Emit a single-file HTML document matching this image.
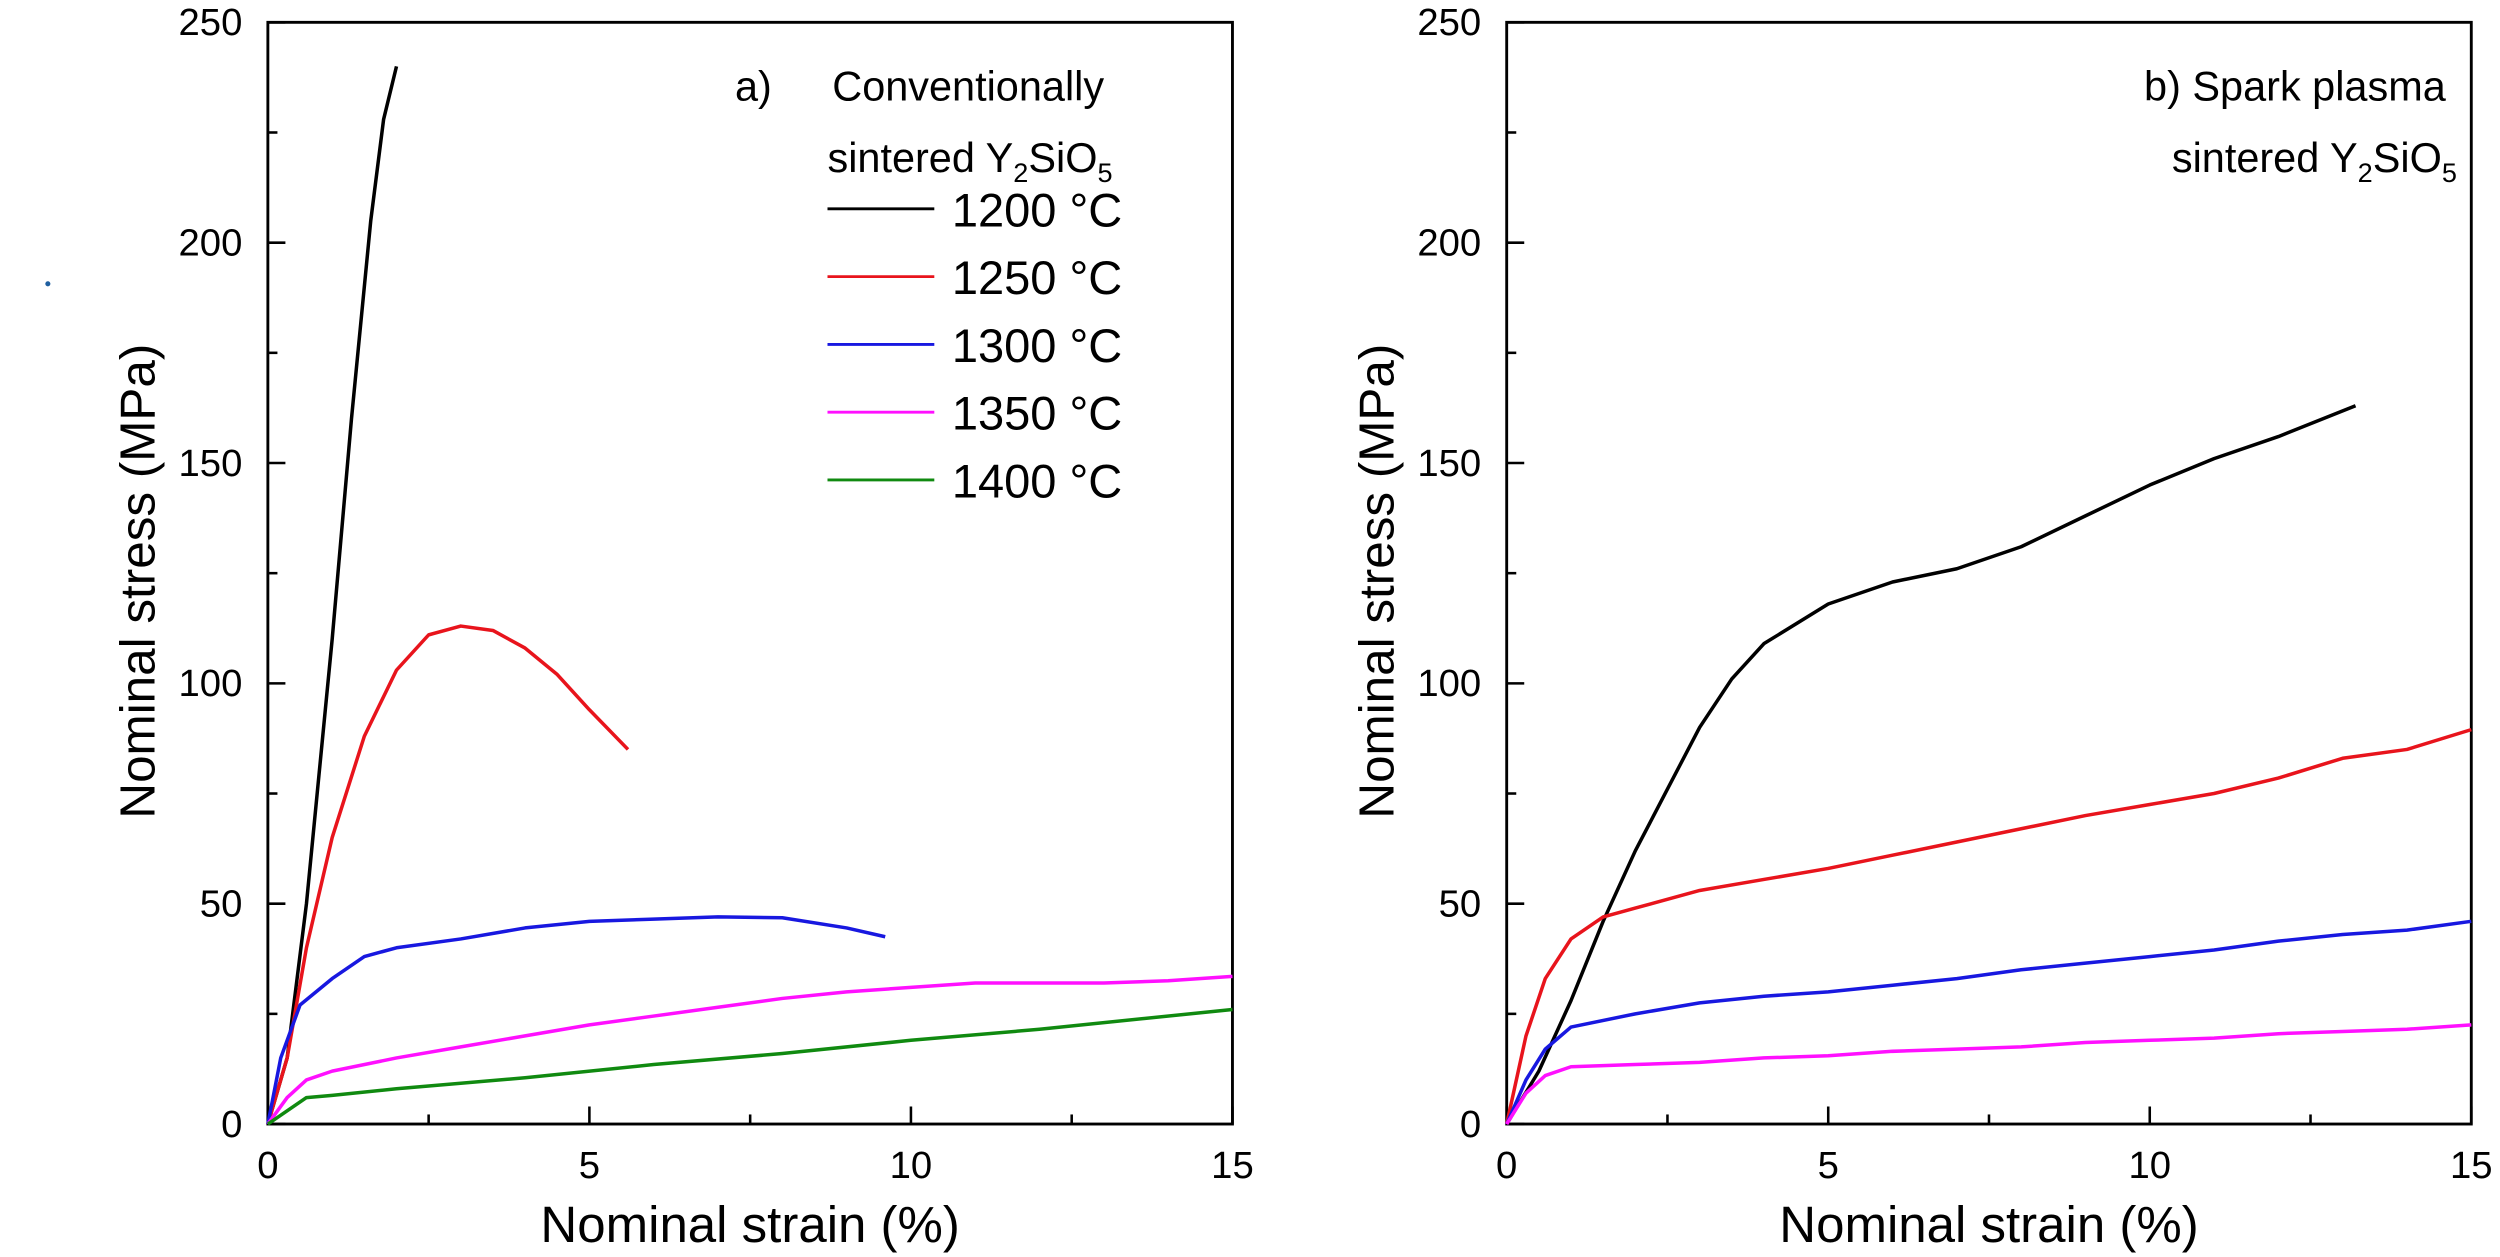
<!DOCTYPE html>
<html><head><meta charset="utf-8"><style>
html,body{margin:0;padding:0;background:#fff;}
svg{display:block;font-family:"Liberation Sans",Arial,sans-serif;}
</style></head><body>
<svg id="chart" width="2500" height="1257" viewBox="0 0 1568 788.4" xmlns="http://www.w3.org/2000/svg">
<circle cx="30" cy="178" r="1.6" fill="#1f5fa0"/>
</svg>
<script>
// ---- data: panel a (conventionally sintered) ----
const aStrain1200 = [0,0.3,0.6,1.0,1.3,1.6,1.8,2.0];
const aStress1200 = [0,15,50,110,160,205,228,240];
const aStrain1250 = [0,0.3,0.6,1.0,1.5,2.0,2.5,3.0,3.5,4.0,4.5,5.0,5.6];
const aStress1250 = [0,15,40,65,88,103,111,113,112,108,102,94,85];
const aStrain1300 = [0,0.2,0.5,1.0,1.5,2,3,4,5,6,7,8,9,9.6];
const aStress1300 = [0,15,27,33,38,40,42,44.5,46,46.5,47,46.8,44.5,42.5];
const aStrain1350 = [0,0.3,0.6,1,2,3,4,5,6,7,8,9,10,11,12,13,14,15];
const aStress1350 = [0,6,10,12,15,17.5,20,22.5,24.5,26.5,28.5,30,31,32,32,32,32.5,33.5];
const aStrain1400 = [0,0.3,0.6,1,2,4,6,8,10,12,15];
const aStress1400 = [0,3,6,6.5,8,10.5,13.5,16,19,21.5,26];
// ---- data: panel b (spark plasma sintered) ----
const bStrain1200 = [0,0.5,1,1.5,2,2.5,3,3.5,4,5,6,7,8,9,10,11,12,13.2];
const bStress1200 = [0,12,28,46,62,76,90,101,109,118,123,126,131,138,145,151,156,163];
const bStrain1250 = [0,0.3,0.6,1,1.5,2,3,4,5,6,7,8,9,10,11,12,13,14,15];
const bStress1250 = [0,20,33,42,47,49,53,55.5,58,61,64,67,70,72.5,75,78.5,83,85,89.5];
const bStrain1300 = [0,0.3,0.6,1,2,3,4,5,6,7,8,9,10,11,12,13,14,15];
const bStress1300 = [0,10,17,22,25,27.5,29,30,31.5,33,35,36.5,38,39.5,41.5,43,44,46];
const bStrain1350 = [0,0.3,0.6,1,2,3,4,5,6,7,8,9,10,11,12,13,14,15];
const bStress1350 = [0,7,11,13,13.5,14,15,15.5,16.5,17,17.5,18.5,19,19.5,20.5,21,21.5,22.5];
const xTicks = [0,5,10,15];
const xMinor = [2.5,7.5,12.5];
const yTicks = [0,50,100,150,200,250];
const yMinor = [25,75,125,175,225];
const legendLabels = ["1200 \u00B0C","1250 \u00B0C","1300 \u00B0C","1350 \u00B0C","1400 \u00B0C"];
const colors = ["#000000","#e8141c","#1818e0","#ff10ff","#108a10"];

const NS="http://www.w3.org/2000/svg";
const svg=document.getElementById('chart');
function mk(tag,attrs,parent){const e=document.createElementNS(NS,tag);for(const k in attrs)e.setAttribute(k,attrs[k]);(parent||svg).appendChild(e);return e;}
function txt(x,y,s,size,anchor,parent){const t=mk('text',{x:x,y:y,'font-size':size,'text-anchor':anchor||'start',fill:'#000'},parent);t.textContent=s;return t;}

function panel(id,x0,x1,y0,y1,series){
  const g=mk('g',{});
  
  
  const sx=v=>x0+(v/15)*(x1-x0);
  const sy=v=>y0-(v/250)*(y0-y1);
  const frame=mk('rect',{x:x0,y:y1,width:x1-x0,height:y0-y1,fill:'none',stroke:'#000','stroke-width':1.8},g);
  
  
  xTicks.forEach(v=>{
    const l=mk('line',{x1:sx(v),x2:sx(v),y1:y0,y2:y0-11,stroke:'#000','stroke-width':1.6},g);
    
    
    const t=txt(sx(v),y0+34,String(v),24,'middle',g);
    
    
  });
  xMinor.forEach(v=>{
    const l=mk('line',{x1:sx(v),x2:sx(v),y1:y0,y2:y0-6,stroke:'#000','stroke-width':1.6},g);
    
    
  });
  yTicks.forEach(v=>{
    const l=mk('line',{x1:x0,x2:x0+11,y1:sy(v),y2:sy(v),stroke:'#000','stroke-width':1.6},g);
    
    
    const t=txt(x0-16,sy(v)+8,String(v),24,'end',g);
    
    
  });
  yMinor.forEach(v=>{
    const l=mk('line',{x1:x0,x2:x0+6,y1:sy(v),y2:sy(v),stroke:'#000','stroke-width':1.6},g);
    
    
  });
  series.forEach((s,i)=>{
    const pts=s[0].map((x,j)=>sx(x).toFixed(2)+','+sy(s[1][j]).toFixed(2)).join(' ');
    const p=mk('polyline',{points:pts,fill:'none',stroke:colors[i],'stroke-width':2.2,'stroke-linejoin':'round'},g);
    
    
  });
  const xt=txt((x0+x1)/2,y0+74,'Nominal strain (%)',32,'middle',g);
  
  
  const yt=txt(0,0,'Nominal stress (MPa)',31,'middle',g);
  yt.setAttribute('transform','translate('+(x0-71)+','+((y0+y1)/2+5)+') rotate(-90)');
  
  
  return g;
}

const ga=panel('panel-a',168,773,705,14,[[aStrain1200,aStress1200],[aStrain1250,aStress1250],[aStrain1300,aStress1300],[aStrain1350,aStress1350],[aStrain1400,aStress1400]]);
const gb=panel('panel-b',945,1550,705,14,[[bStrain1200,bStress1200],[bStrain1250,bStress1250],[bStrain1300,bStress1300],[bStrain1350,bStress1350]]);

// panel a annotations
let t=txt(461,63,'a)',26,'start',ga);


t=txt(522,63,'Conventionally',26,'start',ga);


t=mk('text',{x:519,y:108,'font-size':26,fill:'#000'},ga);
t.innerHTML='sintered Y<tspan font-size="17" dy="6">2</tspan><tspan dy="-6">SiO</tspan><tspan font-size="17" dy="6">5</tspan>';


legendLabels.forEach((lab,i)=>{
  const y=131+i*42.5;
  const l=mk('line',{x1:519,x2:586,y1:y,y2:y,stroke:colors[i],'stroke-width':1.8},ga);
  
  
  const tt=txt(597,y+11,lab,29.5,'start',ga);
  
  
});
// panel b annotations
t=txt(1534,63,'b) Spark plasma',26,'end',gb);


t=mk('text',{x:1541,y:108,'font-size':26,fill:'#000','text-anchor':'end'},gb);
t.innerHTML='sintered Y<tspan font-size="17" dy="6">2</tspan><tspan dy="-6">SiO</tspan><tspan font-size="17" dy="6">5</tspan>';


</script>
</body></html>
